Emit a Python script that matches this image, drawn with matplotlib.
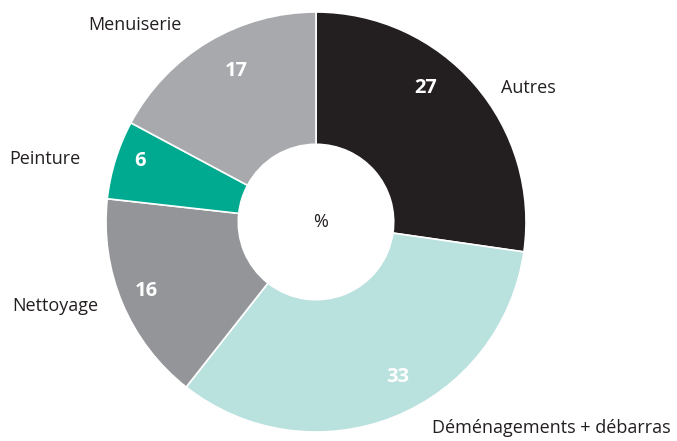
import matplotlib
matplotlib.use("Agg")
import matplotlib.pyplot as plt

plt.rcParams['font.family'] = ['Open Sans', 'DejaVu Sans']

categories = ["Autres", "Déménagements + débarras", "Nettoyage", "Peinture", "Menuiserie"]
values = [27, 33, 16, 6, 17]
colors = ["#231f20", "#b9e1de", "#939598", "#00aa90", "#a7a9ac"]

# label spots in data units (pie radius = 1, centre at 0,0)
label_pos = [(0.88, 0.64), (1.69, -0.98), (-1.24, -0.40), (-1.29, 0.30), (-0.86, 0.94)]
label_ha = ["left", "right", "center", "center", "center"]
value_pos = [(0.52, 0.64), (0.39, -0.74), (-0.81, -0.33), (-0.84, 0.29), (-0.38, 0.72)]

fig = plt.figure(figsize=(6.77, 4.41), dpi=100)
ax = fig.add_axes([106 / 677, 9 / 441, 420 / 677, 420 / 441])

wedges, _ = ax.pie(values, colors=colors, startangle=90, counterclock=False,
                   radius=1.0, wedgeprops=dict(width=0.63, edgecolor="white", linewidth=1.2))
ax.set_xlim(-1, 1)
ax.set_ylim(-1, 1)
ax.set_aspect("equal")

for v, (x, y) in zip(values, value_pos):
    ax.text(x, y, str(v), color="white", fontsize=14.5, fontweight="bold",
            ha="center", va="center")

for name, (x, y), ha in zip(categories, label_pos, label_ha):
    ax.text(x, y, name, fontsize=13, color="#231f20", ha=ha, va="center")

ax.text(0.02, 0, "%", fontsize=13, color="#231f20", ha="center", va="center")

fig.savefig("out.png", dpi=100)
